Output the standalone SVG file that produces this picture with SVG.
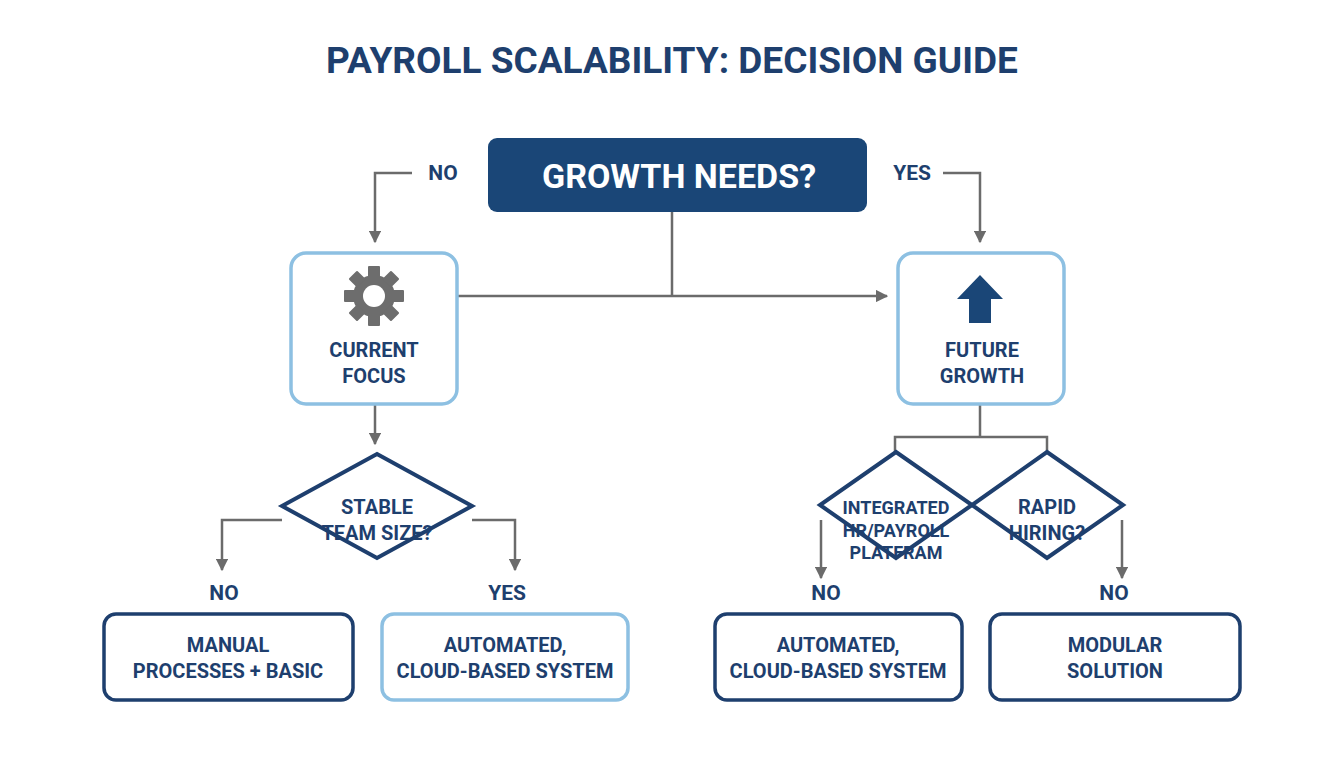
<svg xmlns="http://www.w3.org/2000/svg" width="1344" height="768" viewBox="0 0 1344 768">
<defs>
<style>
text{font-family:Roboto,"Liberation Sans",sans-serif;font-weight:bold;fill:#1e3f6e;text-anchor:middle}
.t{font-size:20px}
.lbl{font-size:21px}
.c{fill:none;stroke:#6b6b6b;stroke-width:2.5}
.light{fill:#fff;stroke:#8dc0e2;stroke-width:3.5}
.dark{fill:#fff;stroke:#1e3f6e;stroke-width:3.5}
.dia{fill:none;stroke:#1e3f6e;stroke-width:4;stroke-linejoin:miter}
</style>
<marker id="ah" viewBox="0 0 10 10" refX="9" refY="5" markerWidth="5" markerHeight="5" orient="auto"><path d="M0,0L10,5L0,10z" fill="#6b6b6b"/></marker>
</defs>
<rect width="1344" height="768" fill="#fff"/>
<text x="672" y="73" style="font-size:37px">PAYROLL SCALABILITY: DECISION GUIDE</text>
<g id="connectors">
<path class="c" d="M412,173H375V242" marker-end="url(#ah)"/>
<path class="c" d="M943,173H980V242" marker-end="url(#ah)"/>
<path class="c" d="M672,212V296"/>
<path class="c" d="M458,296H887" marker-end="url(#ah)"/>
<path class="c" d="M375,405V444" marker-end="url(#ah)"/>
<path class="c" d="M282,520H222V570" marker-end="url(#ah)"/>
<path class="c" d="M472,520H515V570" marker-end="url(#ah)"/>
<path class="c" d="M980,405V437M895,452V437H1047V452"/>
<path class="c" d="M821,520V578" marker-end="url(#ah)"/>
<path class="c" d="M1122,520V578" marker-end="url(#ah)"/>
<text class="lbl" x="443" y="180">NO</text>
<text class="lbl" x="912" y="180">YES</text>
<text class="lbl" x="224" y="600">NO</text>
<text class="lbl" x="507" y="600">YES</text>
<text class="lbl" x="826" y="600">NO</text>
<text class="lbl" x="1114" y="600">NO</text>
</g>
<g id="growth">
<rect x="488" y="138" width="379" height="74" rx="9" fill="#1a4677"/>
<text x="679" y="188" style="font-size:34px;fill:#fff">GROWTH NEEDS?</text>
</g>
<g id="current">
<rect class="light" x="291" y="253" width="166" height="151" rx="15"/>
<g transform="translate(374,296)" fill="#6d6d6d">
<circle r="21"/>
<g id="tooth"><rect x="-6" y="-30" width="12" height="12" rx="1"/></g>
<use href="#tooth" transform="rotate(45)"/><use href="#tooth" transform="rotate(90)"/><use href="#tooth" transform="rotate(135)"/><use href="#tooth" transform="rotate(180)"/><use href="#tooth" transform="rotate(225)"/><use href="#tooth" transform="rotate(270)"/><use href="#tooth" transform="rotate(315)"/>
<circle r="11" fill="#fff"/>
</g>
<text class="t" x="374" y="357">CURRENT</text>
<text class="t" x="374" y="383">FOCUS</text>
</g>
<g id="future">
<rect class="light" x="898" y="253" width="166" height="151" rx="15"/>
<path d="M980,275L1003,299H991V323H969V299H957Z" fill="#1a4677"/>
<text class="t" x="982" y="357">FUTURE</text>
<text class="t" x="982" y="383">GROWTH</text>
</g>
<g id="stable">
<path class="dia" d="M377,454L472,506L377,558L282,506Z"/>
<text class="t" x="377" y="514">STABLE</text>
<text class="t" x="377" y="540">TEAM SIZE?</text>
</g>
<g id="integrated">
<path class="dia" d="M896,452L972,505L896,558L820,505Z"/>
<text x="896" y="514" style="font-size:18px">INTEGRATED</text>
<text x="896" y="537" style="font-size:18px">HR/PAYROLL</text>
<text x="896" y="559" style="font-size:18px">PLATFRAM</text>
</g>
<g id="rapid">
<path class="dia" d="M1047,452L1123,505L1047,558L972,505Z"/>
<text class="t" x="1047" y="514">RAPID</text>
<text class="t" x="1047" y="540">HIRING?</text>
</g>
<g id="manual">
<rect class="dark" x="104" y="614" width="249" height="86" rx="12"/>
<text class="t" x="228" y="652">MANUAL</text>
<text class="t" x="228" y="678">PROCESSES + BASIC</text>
</g>
<g id="auto1">
<rect class="light" x="382" y="614" width="246" height="86" rx="12"/>
<text class="t" x="505" y="652">AUTOMATED,</text>
<text class="t" x="505" y="678">CLOUD-BASED SYSTEM</text>
</g>
<g id="auto2">
<rect class="dark" x="715" y="614" width="247" height="86" rx="12"/>
<text class="t" x="838" y="652">AUTOMATED,</text>
<text class="t" x="838" y="678">CLOUD-BASED SYSTEM</text>
</g>
<g id="modular">
<rect class="dark" x="990" y="614" width="250" height="86" rx="12"/>
<text class="t" x="1115" y="652">MODULAR</text>
<text class="t" x="1115" y="678">SOLUTION</text>
</g>
</svg>
